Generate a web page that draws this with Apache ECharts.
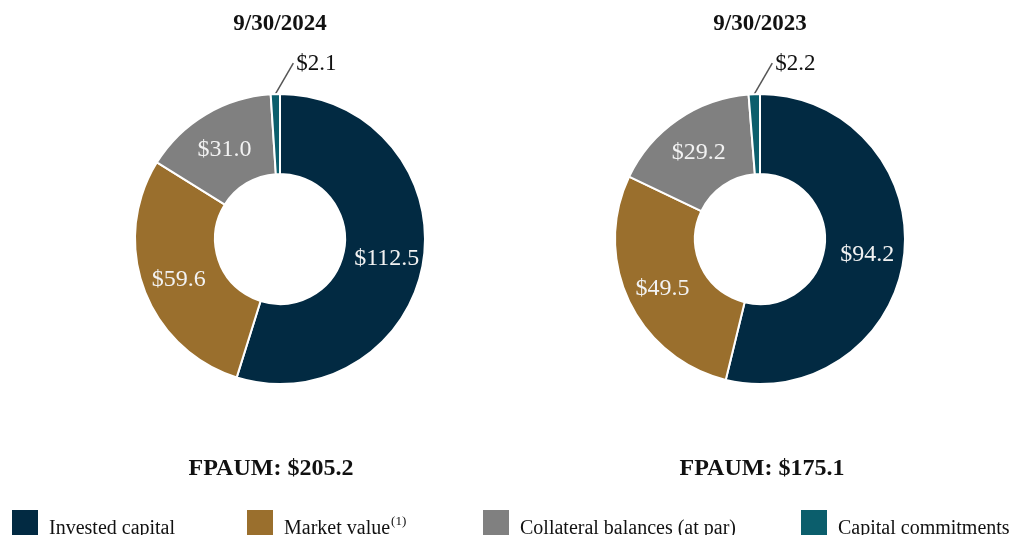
<!DOCTYPE html>
<html>
<head>
<meta charset="utf-8">
<script src="https://cdn.jsdelivr.net/npm/echarts@6/dist/echarts.min.js"></script>
<style>
  html, body { margin: 0; padding: 0; background: #fff; }
  #main { width: 1019px; height: 535px; }
</style>
</head>
<body>
<div id="main"></div>
<script>
// data
var categories = ["Invested capital", "Market value", "Collateral balances (at par)", "Capital commitments"];
var colors = ["#022a42", "#9a6f2d", "#808080", "#0b5e6c"];
var values2024 = [112.5, 59.6, 31.0, 2.1];
var values2023 = [94.2, 49.5, 29.2, 2.2];
var dates = ["9/30/2024", "9/30/2023"];
var totals = ["FPAUM: $205.2", "FPAUM: $175.1"];

var serif = "'Liberation Serif', 'Times New Roman', serif";

function buildData(vals) {
  return vals.map(function (v, i) {
    var item = { name: categories[i], value: v, itemStyle: { color: colors[i] } };
    if (i === 3) {
      // tiny slice: label outside with leader line
      item.label = { position: "outside", color: "#111", fontSize: 23, padding: 0 };
      item.labelLine = { show: true, length: 20, length2: 0, lineStyle: { color: "#555", width: 1.5 } };
    }
    return item;
  });
}

function labelLayout(params) {
  if (params.dataIndex !== 3 || !params.labelLinePoints) return { dy: 3 };
  var p0 = params.labelLinePoints[0];
  var p1 = [p0[0] + 18, p0[1] - 31];
  return {
    x: p1[0] + 3,
    y: p1[1] + 1,
    align: "left",
    verticalAlign: "middle",
    labelLinePoints: [p0, p1]
  };
}

function pieSeries(vals, cx) {
  return {
    type: "pie",
    center: [cx, 239],
    radius: [65, 145],
    startAngle: 90,
    clockwise: true,
    avoidLabelOverlap: false,
    itemStyle: { borderColor: "#fff", borderWidth: 2 },
    label: {
      show: true,
      position: "inside",
      formatter: function (p) { return "$" + p.value.toFixed(1); },
      color: "#f2f2f2",
      fontFamily: serif,
      fontSize: 24
    },
    labelLine: { show: false },
    labelLayout: labelLayout,
    emphasis: { disabled: true },
    data: buildData(vals)
  };
}

var legendLefts = [10, 245, 481, 799];
var legends = categories.map(function (c, i) {
  return {
    left: legendLefts[i],
    top: 508,
    padding: 0,
    icon: "rect",
    itemWidth: 28,
    itemHeight: 30,
    data: [c],
    selectedMode: false,
    formatter: function (name) {
      return name === "Market value" ? name + "{sup|(1)}" : name;
    },
    textStyle: {
      fontFamily: serif,
      fontSize: 20,
      color: "#111",
      padding: [10, 0, 0, 5],
      rich: {
        sup: { fontFamily: serif, fontSize: 13, color: "#111", padding: [0, 0, 14, 1] }
      }
    }
  };
});

var titleStyle = { fontFamily: serif, fontWeight: "bold", color: "#111" };
function title(text, x, y, size) {
  return { text: text, left: x, top: y, padding: 0, textAlign: "center",
    textStyle: Object.assign({ fontSize: size }, titleStyle) };
}

var myChart = echarts.init(document.getElementById("main"));
myChart.setOption({
  animation: false,
  title: [
    title(dates[0], 280, 13, 23),
    title(dates[1], 760, 13, 23),
    title(totals[0], 271, 457, 24),
    title(totals[1], 762, 457, 24)
  ],
  legend: legends,
  series: [pieSeries(values2024, 280), pieSeries(values2023, 760)]
});
</script>
</body>
</html>
